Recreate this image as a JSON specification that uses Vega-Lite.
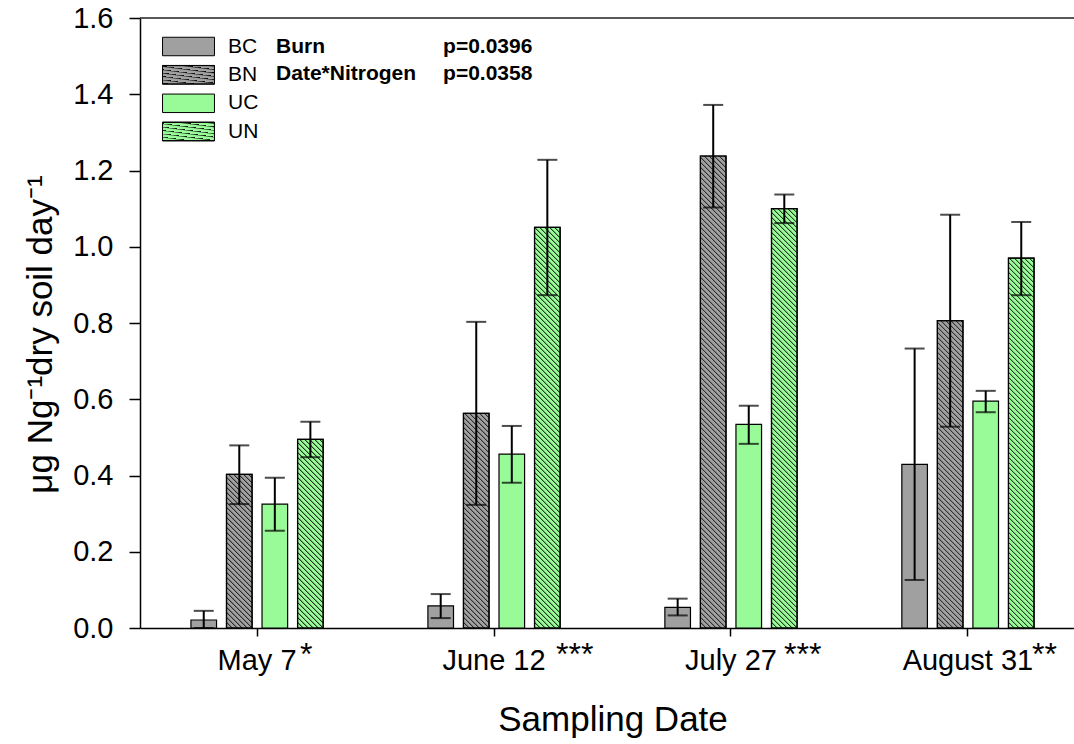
{
"$schema": "https://vega.github.io/schema/vega-lite/v6.json",
"width": 934,
"height": 610,
"autosize": {"type": "none"},
"padding": {"left": 140, "top": 18, "right": 0, "bottom": 116},
"background": "white",
"config": {
  "font": "Liberation Sans",
  "view": {"stroke": null},
  "axis": {"labelColor": "black", "titleColor": "black", "domainColor": "black", "tickColor": "black", "labelFont": "Liberation Sans", "titleFont": "Liberation Sans", "titleFontWeight": "normal", "grid": false, "domainWidth": 1.5, "tickWidth": 1.5},
  "text": {"font": "Liberation Sans", "color": "black"}
},
"params": [{"name": "hatchStops", "value": [
{"offset":0,"color":"#000"},{"offset":0.004,"color":"#0000"},{"offset":0.01,"color":"#0000"},
{"offset":0.01,"color":"#000"},{"offset":0.014,"color":"#0000"},{"offset":0.02,"color":"#0000"},
{"offset":0.02,"color":"#000"},{"offset":0.024,"color":"#0000"},{"offset":0.03,"color":"#0000"},
{"offset":0.03,"color":"#000"},{"offset":0.034,"color":"#0000"},{"offset":0.04,"color":"#0000"},
{"offset":0.04,"color":"#000"},{"offset":0.044,"color":"#0000"},{"offset":0.05,"color":"#0000"},
{"offset":0.05,"color":"#000"},{"offset":0.054,"color":"#0000"},{"offset":0.06,"color":"#0000"},
{"offset":0.06,"color":"#000"},{"offset":0.064,"color":"#0000"},{"offset":0.07,"color":"#0000"},
{"offset":0.07,"color":"#000"},{"offset":0.074,"color":"#0000"},{"offset":0.08,"color":"#0000"},
{"offset":0.08,"color":"#000"},{"offset":0.084,"color":"#0000"},{"offset":0.09,"color":"#0000"},
{"offset":0.09,"color":"#000"},{"offset":0.094,"color":"#0000"},{"offset":0.1,"color":"#0000"},
{"offset":0.1,"color":"#000"},{"offset":0.104,"color":"#0000"},{"offset":0.11,"color":"#0000"},
{"offset":0.11,"color":"#000"},{"offset":0.114,"color":"#0000"},{"offset":0.12,"color":"#0000"},
{"offset":0.12,"color":"#000"},{"offset":0.124,"color":"#0000"},{"offset":0.13,"color":"#0000"},
{"offset":0.13,"color":"#000"},{"offset":0.134,"color":"#0000"},{"offset":0.14,"color":"#0000"},
{"offset":0.14,"color":"#000"},{"offset":0.144,"color":"#0000"},{"offset":0.15,"color":"#0000"},
{"offset":0.15,"color":"#000"},{"offset":0.154,"color":"#0000"},{"offset":0.16,"color":"#0000"},
{"offset":0.16,"color":"#000"},{"offset":0.164,"color":"#0000"},{"offset":0.17,"color":"#0000"},
{"offset":0.17,"color":"#000"},{"offset":0.174,"color":"#0000"},{"offset":0.18,"color":"#0000"},
{"offset":0.18,"color":"#000"},{"offset":0.184,"color":"#0000"},{"offset":0.19,"color":"#0000"},
{"offset":0.19,"color":"#000"},{"offset":0.194,"color":"#0000"},{"offset":0.2,"color":"#0000"},
{"offset":0.2,"color":"#000"},{"offset":0.204,"color":"#0000"},{"offset":0.21,"color":"#0000"},
{"offset":0.21,"color":"#000"},{"offset":0.214,"color":"#0000"},{"offset":0.22,"color":"#0000"},
{"offset":0.22,"color":"#000"},{"offset":0.224,"color":"#0000"},{"offset":0.23,"color":"#0000"},
{"offset":0.23,"color":"#000"},{"offset":0.234,"color":"#0000"},{"offset":0.24,"color":"#0000"},
{"offset":0.24,"color":"#000"},{"offset":0.244,"color":"#0000"},{"offset":0.25,"color":"#0000"},
{"offset":0.25,"color":"#000"},{"offset":0.254,"color":"#0000"},{"offset":0.26,"color":"#0000"},
{"offset":0.26,"color":"#000"},{"offset":0.264,"color":"#0000"},{"offset":0.27,"color":"#0000"},
{"offset":0.27,"color":"#000"},{"offset":0.274,"color":"#0000"},{"offset":0.28,"color":"#0000"},
{"offset":0.28,"color":"#000"},{"offset":0.284,"color":"#0000"},{"offset":0.29,"color":"#0000"},
{"offset":0.29,"color":"#000"},{"offset":0.294,"color":"#0000"},{"offset":0.3,"color":"#0000"},
{"offset":0.3,"color":"#000"},{"offset":0.304,"color":"#0000"},{"offset":0.31,"color":"#0000"},
{"offset":0.31,"color":"#000"},{"offset":0.314,"color":"#0000"},{"offset":0.32,"color":"#0000"},
{"offset":0.32,"color":"#000"},{"offset":0.324,"color":"#0000"},{"offset":0.33,"color":"#0000"},
{"offset":0.33,"color":"#000"},{"offset":0.334,"color":"#0000"},{"offset":0.34,"color":"#0000"},
{"offset":0.34,"color":"#000"},{"offset":0.344,"color":"#0000"},{"offset":0.35,"color":"#0000"},
{"offset":0.35,"color":"#000"},{"offset":0.354,"color":"#0000"},{"offset":0.36,"color":"#0000"},
{"offset":0.36,"color":"#000"},{"offset":0.364,"color":"#0000"},{"offset":0.37,"color":"#0000"},
{"offset":0.37,"color":"#000"},{"offset":0.374,"color":"#0000"},{"offset":0.38,"color":"#0000"},
{"offset":0.38,"color":"#000"},{"offset":0.384,"color":"#0000"},{"offset":0.39,"color":"#0000"},
{"offset":0.39,"color":"#000"},{"offset":0.394,"color":"#0000"},{"offset":0.4,"color":"#0000"},
{"offset":0.4,"color":"#000"},{"offset":0.404,"color":"#0000"},{"offset":0.41,"color":"#0000"},
{"offset":0.41,"color":"#000"},{"offset":0.414,"color":"#0000"},{"offset":0.42,"color":"#0000"},
{"offset":0.42,"color":"#000"},{"offset":0.424,"color":"#0000"},{"offset":0.43,"color":"#0000"},
{"offset":0.43,"color":"#000"},{"offset":0.434,"color":"#0000"},{"offset":0.44,"color":"#0000"},
{"offset":0.44,"color":"#000"},{"offset":0.444,"color":"#0000"},{"offset":0.45,"color":"#0000"},
{"offset":0.45,"color":"#000"},{"offset":0.454,"color":"#0000"},{"offset":0.46,"color":"#0000"},
{"offset":0.46,"color":"#000"},{"offset":0.464,"color":"#0000"},{"offset":0.47,"color":"#0000"},
{"offset":0.47,"color":"#000"},{"offset":0.474,"color":"#0000"},{"offset":0.48,"color":"#0000"},
{"offset":0.48,"color":"#000"},{"offset":0.484,"color":"#0000"},{"offset":0.49,"color":"#0000"},
{"offset":0.49,"color":"#000"},{"offset":0.494,"color":"#0000"},{"offset":0.5,"color":"#0000"},
{"offset":0.5,"color":"#000"},{"offset":0.504,"color":"#0000"},{"offset":0.51,"color":"#0000"},
{"offset":0.51,"color":"#000"},{"offset":0.514,"color":"#0000"},{"offset":0.52,"color":"#0000"},
{"offset":0.52,"color":"#000"},{"offset":0.524,"color":"#0000"},{"offset":0.53,"color":"#0000"},
{"offset":0.53,"color":"#000"},{"offset":0.534,"color":"#0000"},{"offset":0.54,"color":"#0000"},
{"offset":0.54,"color":"#000"},{"offset":0.544,"color":"#0000"},{"offset":0.55,"color":"#0000"},
{"offset":0.55,"color":"#000"},{"offset":0.554,"color":"#0000"},{"offset":0.56,"color":"#0000"},
{"offset":0.56,"color":"#000"},{"offset":0.564,"color":"#0000"},{"offset":0.57,"color":"#0000"},
{"offset":0.57,"color":"#000"},{"offset":0.574,"color":"#0000"},{"offset":0.58,"color":"#0000"},
{"offset":0.58,"color":"#000"},{"offset":0.584,"color":"#0000"},{"offset":0.59,"color":"#0000"},
{"offset":0.59,"color":"#000"},{"offset":0.594,"color":"#0000"},{"offset":0.6,"color":"#0000"},
{"offset":0.6,"color":"#000"},{"offset":0.604,"color":"#0000"},{"offset":0.61,"color":"#0000"},
{"offset":0.61,"color":"#000"},{"offset":0.614,"color":"#0000"},{"offset":0.62,"color":"#0000"},
{"offset":0.62,"color":"#000"},{"offset":0.624,"color":"#0000"},{"offset":0.63,"color":"#0000"},
{"offset":0.63,"color":"#000"},{"offset":0.634,"color":"#0000"},{"offset":0.64,"color":"#0000"},
{"offset":0.64,"color":"#000"},{"offset":0.644,"color":"#0000"},{"offset":0.65,"color":"#0000"},
{"offset":0.65,"color":"#000"},{"offset":0.654,"color":"#0000"},{"offset":0.66,"color":"#0000"},
{"offset":0.66,"color":"#000"},{"offset":0.664,"color":"#0000"},{"offset":0.67,"color":"#0000"},
{"offset":0.67,"color":"#000"},{"offset":0.674,"color":"#0000"},{"offset":0.68,"color":"#0000"},
{"offset":0.68,"color":"#000"},{"offset":0.684,"color":"#0000"},{"offset":0.69,"color":"#0000"},
{"offset":0.69,"color":"#000"},{"offset":0.694,"color":"#0000"},{"offset":0.7,"color":"#0000"},
{"offset":0.7,"color":"#000"},{"offset":0.704,"color":"#0000"},{"offset":0.71,"color":"#0000"},
{"offset":0.71,"color":"#000"},{"offset":0.714,"color":"#0000"},{"offset":0.72,"color":"#0000"},
{"offset":0.72,"color":"#000"},{"offset":0.724,"color":"#0000"},{"offset":0.73,"color":"#0000"},
{"offset":0.73,"color":"#000"},{"offset":0.734,"color":"#0000"},{"offset":0.74,"color":"#0000"},
{"offset":0.74,"color":"#000"},{"offset":0.744,"color":"#0000"},{"offset":0.75,"color":"#0000"},
{"offset":0.75,"color":"#000"},{"offset":0.754,"color":"#0000"},{"offset":0.76,"color":"#0000"},
{"offset":0.76,"color":"#000"},{"offset":0.764,"color":"#0000"},{"offset":0.77,"color":"#0000"},
{"offset":0.77,"color":"#000"},{"offset":0.774,"color":"#0000"},{"offset":0.78,"color":"#0000"},
{"offset":0.78,"color":"#000"},{"offset":0.784,"color":"#0000"},{"offset":0.79,"color":"#0000"},
{"offset":0.79,"color":"#000"},{"offset":0.794,"color":"#0000"},{"offset":0.8,"color":"#0000"},
{"offset":0.8,"color":"#000"},{"offset":0.804,"color":"#0000"},{"offset":0.81,"color":"#0000"},
{"offset":0.81,"color":"#000"},{"offset":0.814,"color":"#0000"},{"offset":0.82,"color":"#0000"},
{"offset":0.82,"color":"#000"},{"offset":0.824,"color":"#0000"},{"offset":0.83,"color":"#0000"},
{"offset":0.83,"color":"#000"},{"offset":0.834,"color":"#0000"},{"offset":0.84,"color":"#0000"},
{"offset":0.84,"color":"#000"},{"offset":0.844,"color":"#0000"},{"offset":0.85,"color":"#0000"},
{"offset":0.85,"color":"#000"},{"offset":0.854,"color":"#0000"},{"offset":0.86,"color":"#0000"},
{"offset":0.86,"color":"#000"},{"offset":0.864,"color":"#0000"},{"offset":0.87,"color":"#0000"},
{"offset":0.87,"color":"#000"},{"offset":0.874,"color":"#0000"},{"offset":0.88,"color":"#0000"},
{"offset":0.88,"color":"#000"},{"offset":0.884,"color":"#0000"},{"offset":0.89,"color":"#0000"},
{"offset":0.89,"color":"#000"},{"offset":0.894,"color":"#0000"},{"offset":0.9,"color":"#0000"},
{"offset":0.9,"color":"#000"},{"offset":0.904,"color":"#0000"},{"offset":0.91,"color":"#0000"},
{"offset":0.91,"color":"#000"},{"offset":0.914,"color":"#0000"},{"offset":0.92,"color":"#0000"},
{"offset":0.92,"color":"#000"},{"offset":0.924,"color":"#0000"},{"offset":0.93,"color":"#0000"},
{"offset":0.93,"color":"#000"},{"offset":0.934,"color":"#0000"},{"offset":0.94,"color":"#0000"},
{"offset":0.94,"color":"#000"},{"offset":0.944,"color":"#0000"},{"offset":0.95,"color":"#0000"},
{"offset":0.95,"color":"#000"},{"offset":0.954,"color":"#0000"},{"offset":0.96,"color":"#0000"},
{"offset":0.96,"color":"#000"},{"offset":0.964,"color":"#0000"},{"offset":0.97,"color":"#0000"},
{"offset":0.97,"color":"#000"},{"offset":0.974,"color":"#0000"},{"offset":0.98,"color":"#0000"},
{"offset":0.98,"color":"#000"},{"offset":0.984,"color":"#0000"},{"offset":0.99,"color":"#0000"},
{"offset":0.99,"color":"#000"},{"offset":0.994,"color":"#0000"},{"offset":1,"color":"#0000"}
]}],
"datasets": {
  "bars": [
    {"date": "May 7", "trt": "BC", "mean": 0.021, "lo": 0.0, "hi": 0.045},
    {"date": "May 7", "trt": "BN", "mean": 0.403, "lo": 0.325, "hi": 0.479},
    {"date": "May 7", "trt": "UC", "mean": 0.325, "lo": 0.255, "hi": 0.394},
    {"date": "May 7", "trt": "UN", "mean": 0.495, "lo": 0.448, "hi": 0.541},
    {"date": "June 12", "trt": "BC", "mean": 0.058, "lo": 0.026, "hi": 0.089},
    {"date": "June 12", "trt": "BN", "mean": 0.563, "lo": 0.323, "hi": 0.803},
    {"date": "June 12", "trt": "UC", "mean": 0.456, "lo": 0.381, "hi": 0.530},
    {"date": "June 12", "trt": "UN", "mean": 1.051, "lo": 0.873, "hi": 1.228},
    {"date": "July 27", "trt": "BC", "mean": 0.054, "lo": 0.033, "hi": 0.077},
    {"date": "July 27", "trt": "BN", "mean": 1.238, "lo": 1.103, "hi": 1.372},
    {"date": "July 27", "trt": "UC", "mean": 0.534, "lo": 0.483, "hi": 0.583},
    {"date": "July 27", "trt": "UN", "mean": 1.100, "lo": 1.062, "hi": 1.137},
    {"date": "August 31", "trt": "BC", "mean": 0.429, "lo": 0.126, "hi": 0.733},
    {"date": "August 31", "trt": "BN", "mean": 0.806, "lo": 0.528, "hi": 1.084},
    {"date": "August 31", "trt": "UC", "mean": 0.595, "lo": 0.566, "hi": 0.622},
    {"date": "August 31", "trt": "UN", "mean": 0.970, "lo": 0.873, "hi": 1.065}
  ],
  "stars": [
    {"date": "May 7", "sig": "*"},
    {"date": "June 12", "sig": "***"},
    {"date": "July 27", "sig": "***"},
    {"date": "August 31", "sig": "**"}
  ],
  "stats": [
    {"term": "Burn", "p": "p=0.0396"},
    {"term": "Date*Nitrogen", "p": "p=0.0358"}
  ],
  "frame": [{"top": 1.6}]
},
"layer": [
  {
    "data": {"name": "bars"},
    "mark": {"type": "bar", "stroke": "black", "strokeWidth": 1.2},
    "encoding": {
      "x": {"field": "date", "type": "nominal",
        "scale": {"domain": ["May 7", "June 12", "July 27", "August 31"], "paddingInner": 0.4, "paddingOuter": 0.194, "range": [0, 945]},
        "axis": {"title": "Sampling Date", "labelAngle": 0, "labelFontSize": 29, "tickSize": 8, "labelPadding": 10, "titleFontSize": 35, "titlePadding": 27}},
      "xOffset": {"field": "trt", "type": "nominal", "scale": {"domain": ["BC", "BN", "UC", "UN"], "paddingInner": 0.28, "paddingOuter": 0.14}},
      "y": {"field": "mean", "type": "quantitative",
        "scale": {"domain": [0, 1.6], "nice": false},
        "axis": {"title": "μg Ng⁻¹dry soil day⁻¹", "values": [0, 0.2, 0.4, 0.6, 0.8, 1.0, 1.2, 1.4, 1.6], "format": ".1f", "labelFontSize": 29, "tickSize": 11, "labelPadding": 16, "titleFontSize": 35, "titlePadding": 14, "titleY": 316}},
      "fill": {"field": "trt", "type": "nominal",
        "scale": {"domain": ["BC", "BN", "UC", "UN"], "range": ["#a0a0a0", "#a0a0a0", "#98fb98", "#98fb98"]},
        "legend": {"orient": "none", "legendX": 38, "legendY": 18, "title": null, "padding": 0,
          "symbolType": "M-2.81,-1H2.81V1H-2.81Z", "symbolSize": 342, "symbolStrokeColor": "black", "symbolStrokeWidth": 1, "symbolOpacity": 1,
          "labelFontSize": 21, "labelColor": "black", "labelOffset": 29, "rowPadding": 5.4}}
    }
  },
  {
    "data": {"name": "bars"},
    "transform": [{"filter": "datum.trt === 'BN' || datum.trt === 'UN'"}, {"calculate": "datum.trt", "as": "h"}],
    "mark": {"type": "bar", "strokeWidth": 1.2,
      "fill": {"expr": "{gradient: 'linear', x1: 0, y1: 1, x2: 500 * bandwidth('xOffset') / (bandwidth('xOffset') * bandwidth('xOffset') + pow(scale('y', 0) - scale('y', datum.mean), 2)), y2: 1 - 500 * (scale('y', 0) - scale('y', datum.mean)) / (bandwidth('xOffset') * bandwidth('xOffset') + pow(scale('y', 0) - scale('y', datum.mean), 2)), stops: hatchStops}"}},
    "encoding": {
      "x": {"field": "date", "type": "nominal"},
      "xOffset": {"field": "trt", "type": "nominal"},
      "y": {"field": "mean", "type": "quantitative"},
      "stroke": {"field": "h", "type": "nominal",
        "scale": {"range": ["black", "black"]},
        "legend": {"orient": "none", "legendX": 38, "legendY": 46.2, "title": null, "padding": 0,
          "symbolType": "M-2.81,-1H2.81V1H-2.81Z", "symbolSize": 342, "symbolStrokeWidth": 1, "symbolOpacity": 1,
          "labelFontSize": 21, "labelOpacity": 0, "labelExpr": "''", "labelOffset": 29, "rowPadding": 33.6,
          "encode": {"symbols": {"fill": {"value": {"expr": "{gradient: 'linear', x1: 0, y1: 1, x2: 8.535, y2: -2.0365, stops: hatchStops}"}}}}}}
    }
  },
  {
    "data": {"name": "bars"},
    "mark": {"type": "rule", "strokeWidth": 2, "color": "black"},
    "encoding": {
      "x": {"field": "date", "type": "nominal"},
      "xOffset": {"field": "trt", "type": "nominal"},
      "y": {"field": "lo", "type": "quantitative"},
      "y2": {"field": "hi"}
    }
  },
  {
    "data": {"name": "bars"},
    "mark": {"type": "tick", "size": 20, "thickness": 2, "color": "black"},
    "encoding": {
      "x": {"field": "date", "type": "nominal"},
      "xOffset": {"field": "trt", "type": "nominal"},
      "y": {"field": "lo", "type": "quantitative"}
    }
  },
  {
    "data": {"name": "bars"},
    "mark": {"type": "tick", "size": 20, "thickness": 2, "color": "black"},
    "encoding": {
      "x": {"field": "date", "type": "nominal"},
      "xOffset": {"field": "trt", "type": "nominal"},
      "y": {"field": "hi", "type": "quantitative"}
    }
  },
  {
    "data": {"name": "frame"},
    "mark": {"type": "rule", "strokeWidth": 1.5, "color": "#222"},
    "encoding": {"y": {"field": "top", "type": "quantitative"}}
  },
  {
    "data": {"name": "stars"},
    "mark": {"type": "text", "fontSize": 32, "align": "left", "baseline": "alphabetic", "dy": 37, "color": "black",
      "dx": {"expr": "datum.date === 'May 7' ? 43 : datum.date === 'June 12' ? 62 : datum.date === 'July 27' ? 53 : 64"}},
    "encoding": {
      "x": {"field": "date", "type": "nominal"},
      "y": {"datum": 0, "type": "quantitative"},
      "text": {"field": "sig"}
    }
  },
  {
    "data": {"name": "stats"},
    "transform": [{"filter": "datum.term === 'Burn'"}],
    "mark": {"type": "text", "fontSize": 21, "fontWeight": "bold", "align": "left", "baseline": "middle", "dx": 19, "color": "black"},
    "encoding": {"x": {"datum": "May 7"}, "y": {"datum": 1.525, "type": "quantitative"}, "text": {"field": "term"}}
  },
  {
    "data": {"name": "stats"},
    "transform": [{"filter": "datum.term === 'Burn'"}],
    "mark": {"type": "text", "fontSize": 21, "fontWeight": "bold", "align": "left", "baseline": "middle", "dx": 186, "color": "black"},
    "encoding": {"x": {"datum": "May 7"}, "y": {"datum": 1.525, "type": "quantitative"}, "text": {"field": "p"}}
  },
  {
    "data": {"name": "stats"},
    "transform": [{"filter": "datum.term === 'Date*Nitrogen'"}],
    "mark": {"type": "text", "fontSize": 21, "fontWeight": "bold", "align": "left", "baseline": "middle", "dx": 19, "color": "black"},
    "encoding": {"x": {"datum": "May 7"}, "y": {"datum": 1.452, "type": "quantitative"}, "text": {"field": "term"}}
  },
  {
    "data": {"name": "stats"},
    "transform": [{"filter": "datum.term === 'Date*Nitrogen'"}],
    "mark": {"type": "text", "fontSize": 21, "fontWeight": "bold", "align": "left", "baseline": "middle", "dx": 186, "color": "black"},
    "encoding": {"x": {"datum": "May 7"}, "y": {"datum": 1.452, "type": "quantitative"}, "text": {"field": "p"}}
  }
]
}
